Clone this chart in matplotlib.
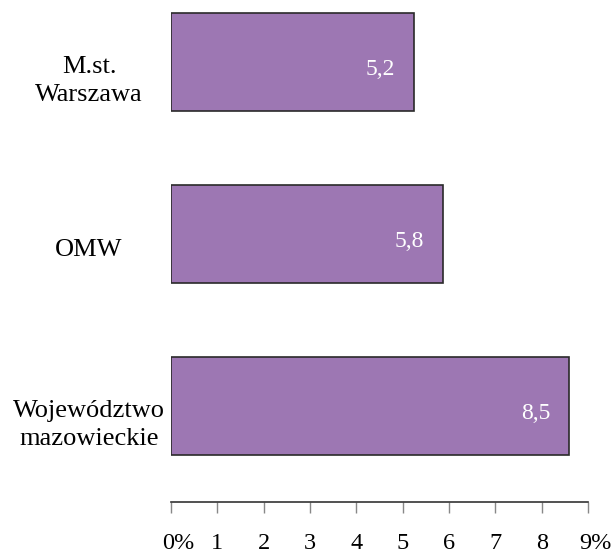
import matplotlib
matplotlib.use("Agg")
import matplotlib.pyplot as plt
import matplotlib.transforms as mtransforms

categories = ["M.st.\nWarszawa", "OMW", "Województwo\nmazowieckie"]
values = [5.25, 5.87, 8.6]
value_labels = ["5,2", "5,8", "8,5"]
xticks = [0, 1, 2, 3, 4, 5, 6, 7, 8, 9]
xtick_labels = ["0%", "1", "2", "3", "4", "5", "6", "7", "8", "9%"]

plt.rcParams['font.family'] = ['Liberation Serif', 'DejaVu Serif']

fig = plt.figure(figsize=(6.13, 5.53), dpi=100)
ax = fig.add_axes([171/613, (553-502)/553, (588-171)/613, 502/553])

ypos = [2, 1, 0]
bars = ax.barh(ypos, values, height=0.57, color='#9D77B3', edgecolor='#2a2a2a', linewidth=1.2)

for b, lab in zip(bars, value_labels):
    off = mtransforms.offset_copy(ax.transData, fig=fig, x=-19, y=-8, units='dots')
    ax.text(b.get_width(), b.get_y() + b.get_height()/2, lab, transform=off,
            ha='right', va='center', color='white', fontsize=17)

ax.set_xlim(0, 9)
ax.set_ylim(-0.561, 2.36)
ax.set_xticks(xticks)
ax.set_xticklabels(xtick_labels, fontsize=17.5)
ax.set_yticks(ypos)
ax.set_yticklabels(categories, fontsize=19, linespacing=1.35)
ax.tick_params(axis='y', length=0, pad=59)
ax.tick_params(axis='x', direction='out', length=8, width=1, color='#888888', pad=14)
for lab in ax.get_yticklabels():
    lab.set_horizontalalignment('center')
    lab.set_transform(lab.get_transform() + mtransforms.Affine2D().translate(0, -14))
for lab in ax.get_xticklabels():
    if '%' in lab.get_text():
        lab.set_transform(lab.get_transform() + mtransforms.Affine2D().translate(7, 0))

for s in ['top', 'right', 'left']:
    ax.spines[s].set_visible(False)
ax.spines['bottom'].set_linewidth(1.2)
ax.spines['bottom'].set_color('#333333')

fig.savefig("out.png", dpi=100)
